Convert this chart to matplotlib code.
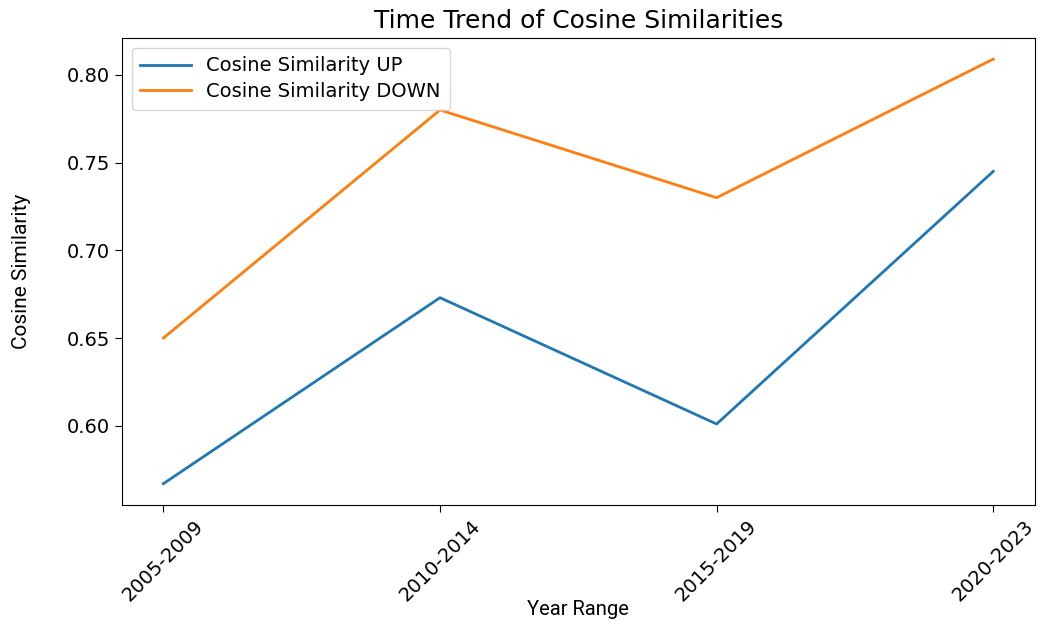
import matplotlib
matplotlib.use("Agg")
import matplotlib.pyplot as plt

# data
year_ranges = ["2005-2009", "2010-2014", "2015-2019", "2020-2023"]
cos_up = [0.567, 0.673, 0.601, 0.745]
cos_down = [0.650, 0.780, 0.730, 0.809]

label_font = ["Roboto", "DejaVu Sans"]

fig = plt.figure(figsize=(10.42, 6.21), dpi=100)
ax = fig.add_axes([0.117, 0.187, 0.876, 0.752])

ax.plot(year_ranges, cos_up, color="#1f77b4", linewidth=2, label="Cosine Similarity UP")
ax.plot(year_ranges, cos_down, color="#ff7f0e", linewidth=2, label="Cosine Similarity DOWN")

ax.set_title("Time Trend of Cosine Similarities", fontsize=18, pad=7)
ax.set_xlabel("Year Range", fontsize=14.5, family=label_font)
ax.xaxis.set_label_coords(0.5, -0.203)
ax.set_ylabel("Cosine Similarity", fontsize=15, family=label_font)
ax.yaxis.set_label_coords(-0.10, 0.5)
ax.tick_params(axis="both", labelsize=14, length=5)
ax.tick_params(axis="x", labelrotation=45)
ax.legend(loc="upper left", fontsize=14, handlelength=2.6, borderpad=0.45,
          labelspacing=0.35)

fig.savefig("out.png", dpi=100)
